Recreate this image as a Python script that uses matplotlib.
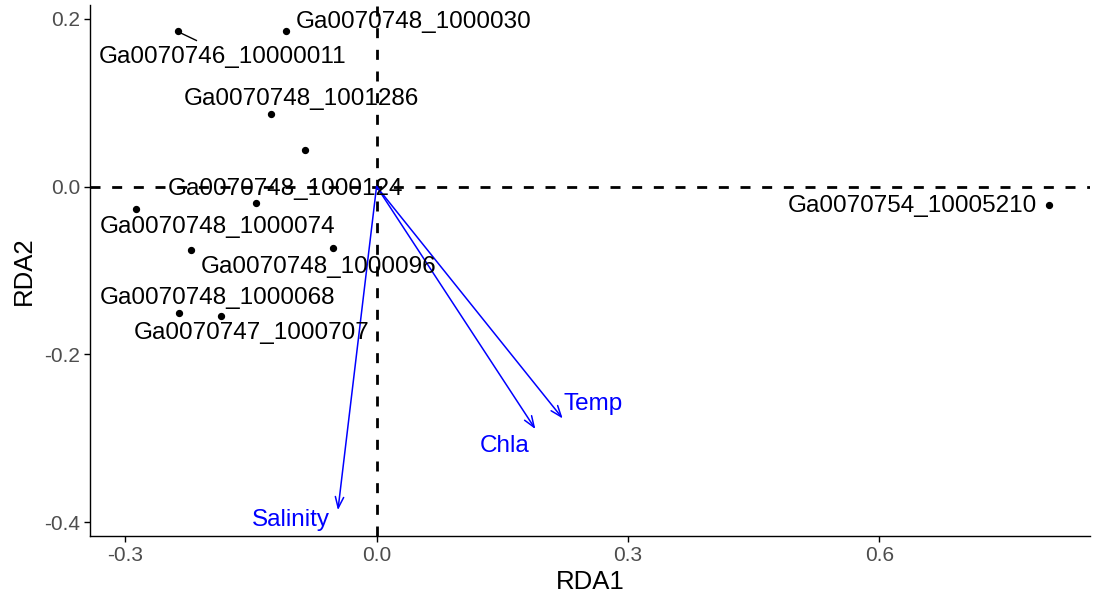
import numpy as np
import matplotlib
matplotlib.use("Agg")
import matplotlib.pyplot as plt

plt.rcParams['font.family'] = ['Liberation Sans', 'DejaVu Sans']

# site scores (RDA1, RDA2)
site_x = [-0.2375, -0.1076, -0.1263, -0.0855, -0.1434, -0.2876,
          -0.2209, -0.0521, -0.2356, -0.1851, 0.8021]
site_y = [0.1858, 0.1858, 0.0861, 0.0440, -0.0199, -0.0266,
          -0.0754, -0.0735, -0.1511, -0.1543, -0.0222]

# repelled labels (text, label centre)
lab_text = ["Ga0070746_10000011", "Ga0070748_1000030", "Ga0070748_1001286",
            "Ga0070748_1000124", "Ga0070748_1000074", "Ga0070748_1000096",
            "Ga0070748_1000068", "Ga0070747_1000707", "Ga0070754_10005210"]
lab_x = [-0.1836, 0.0447, -0.0894, -0.1085, -0.1895, -0.0691,
         -0.1895, -0.1490, 0.6389]
lab_y = [0.1543, 0.1956, 0.1046, -0.0030, -0.0479, -0.0963,
         -0.1330, -0.1743, -0.0230]

# environmental vectors
env_names = ["Salinity", "Chla", "Temp"]
env_x = [-0.0461, 0.1895, 0.2221]
env_y = [-0.3856, -0.2890, -0.2764]
env_lab_x = [-0.1025, 0.1526, 0.2580]
env_lab_y = [-0.3974, -0.3091, -0.2595]

fig = plt.figure(figsize=(10.93, 5.99), dpi=100)
ax = fig.add_axes([0.0823, 0.105, 0.9147, 0.887])

ax.axhline(0, color='black', lw=2.0, ls=(0, (3.6, 4.2)), zorder=1)
ax.axvline(0, color='black', lw=2.0, ls=(0, (3.6, 4.2)), zorder=1)

ax.scatter(site_x, site_y, s=18, color='black', zorder=3)

# segment from first point to its label
ax.plot([site_x[0] + 0.004, -0.215], [site_y[0] - 0.003, 0.174], color='black', lw=1, zorder=2)

for t, x, y in zip(lab_text, lab_x, lab_y):
    ax.text(x, y, t, fontsize=17.5, ha='center', va='center', color='black', zorder=4)

for n, x, y, lx, ly in zip(env_names, env_x, env_y, env_lab_x, env_lab_y):
    ax.annotate('', xy=(x, y), xytext=(0, 0),
                arrowprops=dict(arrowstyle='->,head_length=0.8,head_width=0.3',
                                color='blue', lw=1.1, shrinkA=0, shrinkB=0))
    ax.text(lx, ly, n, fontsize=17.5, ha='center', va='center', color='blue')

ax.set_xlim(-0.342, 0.851)
ax.set_ylim(-0.4165, 0.2165)
ax.set_xticks([-0.3, 0.0, 0.3, 0.6])
ax.set_xticklabels(['-0.3', '0.0', '0.3', '0.6'])
ax.set_yticks([-0.4, -0.2, 0.0, 0.2])
ax.set_yticklabels(['-0.4', '-0.2', '0.0', '0.2'])
ax.tick_params(labelsize=15, labelcolor='#4D4D4D', length=4, width=1, pad=3)
for s in ['top', 'right']:
    ax.spines[s].set_visible(False)
for s in ['left', 'bottom']:
    ax.spines[s].set_linewidth(1)
ax.set_xlabel('RDA1', fontsize=18.5, labelpad=4)
ax.set_ylabel('RDA2', fontsize=18.5, labelpad=6)

fig.savefig('out.png', dpi=100)
